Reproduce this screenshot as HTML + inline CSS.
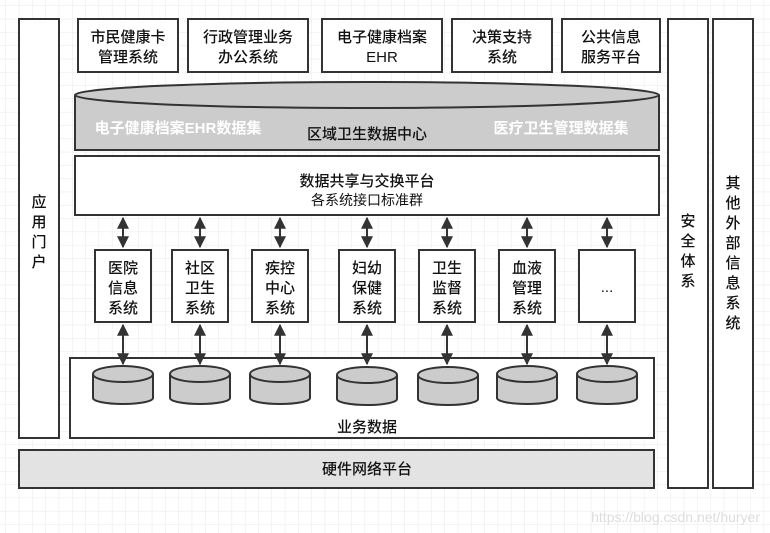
<!DOCTYPE html>
<html><head><meta charset="utf-8"><style>
html,body{margin:0;padding:0;background:#fff;}
svg{display:block;}
text{font-family:"Liberation Sans","Noto Sans CJK SC",sans-serif;fill:#111;}
</style></head><body>
<svg width="770" height="533" viewBox="0 0 770 533" xmlns="http://www.w3.org/2000/svg">
<defs>
<pattern id="g" width="13.3" height="13.3" patternUnits="userSpaceOnUse" x="6" y="6">
<path d="M13.3 0V13.3H0" fill="none" stroke="#e8e8e8" stroke-width="1"/>
</pattern>
<marker id="a" viewBox="0 0 10 10" refX="9" refY="5" markerWidth="6" markerHeight="6" orient="auto-start-reverse"><path d="M0 0L10 5L0 10z" fill="#333"/></marker>
</defs>
<rect width="770" height="533" fill="url(#g)"/>
<g stroke="#333" stroke-width="2" fill="#fff">
<rect x="19" y="19" width="40" height="419"/>
<rect x="78" y="19" width="100" height="53"/>
<rect x="188" y="19" width="120" height="53"/>
<rect x="322" y="19" width="120" height="53"/>
<rect x="452" y="19" width="100" height="53"/>
<rect x="562" y="19" width="98" height="53"/>
<path d="M75 95V150H659V95" fill="#ccc"/>
<ellipse cx="367" cy="95" rx="292" ry="13" fill="#ccc"/>
<rect x="75" y="156" width="584" height="59"/>
<rect x="70" y="358" width="584" height="80"/>
<rect x="19" y="450" width="635" height="38" fill="#e3e3e3"/>
<rect x="668" y="19" width="40" height="469"/>
<rect x="713" y="19" width="40" height="469"/>
<rect x="95" y="250" width="56" height="72"/>
<rect x="172" y="250" width="56" height="72"/>
<rect x="252" y="250" width="56" height="72"/>
<rect x="339" y="250" width="56" height="72"/>
<rect x="419" y="250" width="56" height="72"/>
<rect x="499" y="250" width="56" height="72"/>
<rect x="579" y="250" width="56" height="72"/>
</g>
<g stroke="#333" stroke-width="2" fill="#ccc">
<path d="M93 374V398A30 6 0 0 0 153 398V374"/><ellipse cx="123" cy="374" rx="30" ry="8"/>
<path d="M170 374V398A30 6 0 0 0 230 398V374"/><ellipse cx="200" cy="374" rx="30" ry="8"/>
<path d="M250 374V398A30 6 0 0 0 310 398V374"/><ellipse cx="280" cy="374" rx="30" ry="8"/>
<path d="M337 375V399A30 6 0 0 0 397 399V375"/><ellipse cx="367" cy="375" rx="30" ry="8"/>
<path d="M418 375V399A30 6 0 0 0 478 399V375"/><ellipse cx="448" cy="375" rx="30" ry="8"/>
<path d="M497 374V398A30 6 0 0 0 557 398V374"/><ellipse cx="527" cy="374" rx="30" ry="8"/>
<path d="M577 374V398A30 6 0 0 0 637 398V374"/><ellipse cx="607" cy="374" rx="30" ry="8"/>
</g>
<g stroke="#333" stroke-width="2" marker-start="url(#a)" marker-end="url(#a)">
<line x1="123" y1="218" x2="123" y2="247"/><line x1="200" y1="218" x2="200" y2="247"/>
<line x1="280" y1="218" x2="280" y2="247"/><line x1="367" y1="218" x2="367" y2="247"/>
<line x1="447" y1="218" x2="447" y2="247"/><line x1="527" y1="218" x2="527" y2="247"/>
<line x1="607" y1="218" x2="607" y2="247"/>
<line x1="123" y1="325" x2="123" y2="364"/><line x1="200" y1="325" x2="200" y2="364"/>
<line x1="280" y1="325" x2="280" y2="364"/><line x1="367" y1="325" x2="367" y2="364"/>
<line x1="447" y1="325" x2="447" y2="364"/><line x1="527" y1="325" x2="527" y2="364"/>
<line x1="607" y1="325" x2="607" y2="364"/>
</g>
<g font-size="15" text-anchor="middle" font-weight="500">
<text x="128" y="42">市民健康卡</text><text x="128" y="62">管理系统</text>
<text x="248" y="42">行政管理业务</text><text x="248" y="62">办公系统</text>
<text x="382" y="42">电子健康档案</text><text x="382" y="62">EHR</text>
<text x="502" y="42">决策支持</text><text x="502" y="62">系统</text>
<text x="611" y="42">公共信息</text><text x="611" y="62">服务平台</text>
<text x="367" y="186">数据共享与交换平台</text>
<text x="367" y="474">硬件网络平台</text>
<text x="367" y="432">业务数据</text>
<text x="367" y="139">区域卫生数据中心</text>
</g>
<g font-size="15" text-anchor="middle" style="font-weight:bold">
<text x="178" y="133" style="fill:#fff">电子健康档案EHR数据集</text>
<text x="561" y="133" style="fill:#fff">医疗卫生管理数据集</text>
</g>
<text x="367" y="205" font-size="14" text-anchor="middle">各系统接口标准群</text>
<g font-size="15" text-anchor="middle" font-weight="500">
<text x="123" y="273">医院</text><text x="123" y="293">信息</text><text x="123" y="313">系统</text>
<text x="200" y="273">社区</text><text x="200" y="293">卫生</text><text x="200" y="313">系统</text>
<text x="280" y="273">疾控</text><text x="280" y="293">中心</text><text x="280" y="313">系统</text>
<text x="367" y="273">妇幼</text><text x="367" y="293">保健</text><text x="367" y="313">系统</text>
<text x="447" y="273">卫生</text><text x="447" y="293">监督</text><text x="447" y="313">系统</text>
<text x="527" y="273">血液</text><text x="527" y="293">管理</text><text x="527" y="313">系统</text>
<text x="607" y="292">...</text>
<text x="39" y="207">应</text><text x="39" y="227">用</text><text x="39" y="247">门</text><text x="39" y="267">户</text>
<text x="688" y="226">安</text><text x="688" y="246">全</text><text x="688" y="266">体</text><text x="688" y="286">系</text>
<text x="733" y="188">其</text><text x="733" y="208">他</text><text x="733" y="228">外</text><text x="733" y="248">部</text><text x="733" y="268">信</text><text x="733" y="288">息</text><text x="733" y="308">系</text><text x="733" y="328">统</text>
</g>
<text x="760" y="522" font-size="14" text-anchor="end" style="fill:#ddd">https://blog.csdn.net/huryer</text>
</svg>
</body></html>
